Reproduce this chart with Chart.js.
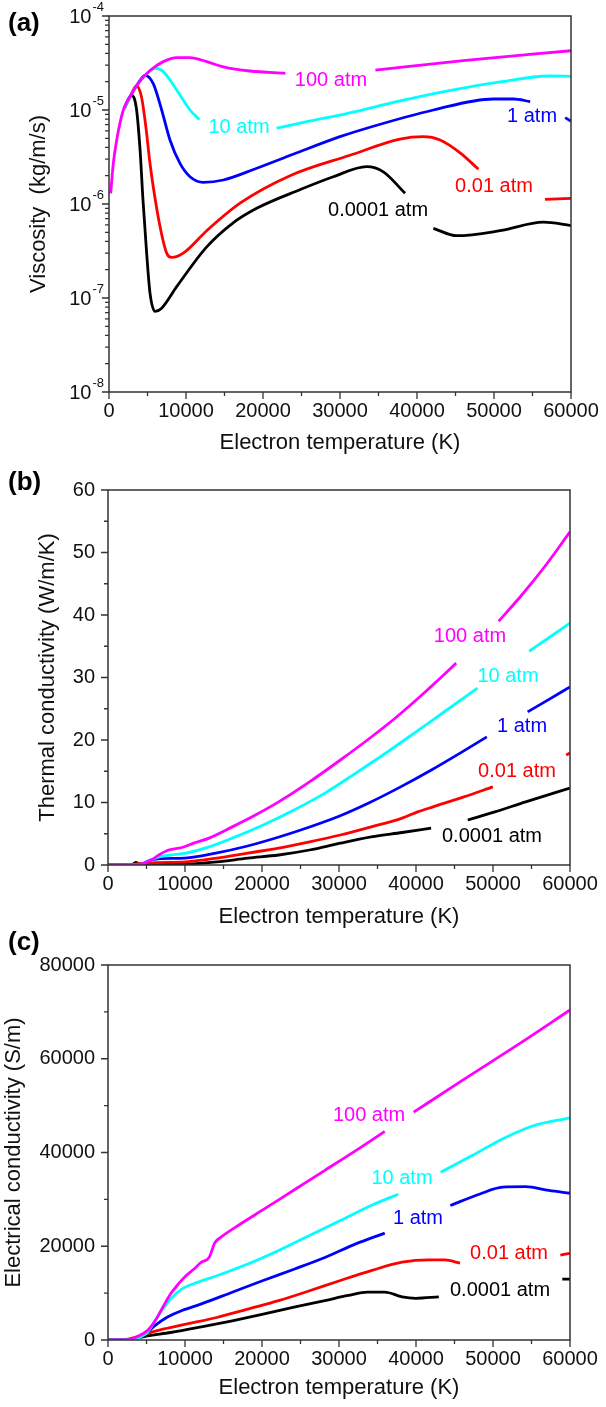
<!DOCTYPE html>
<html>
<head>
<meta charset="utf-8">
<script src="https://cdn.jsdelivr.net/npm/chart.js@4.4.1/dist/chart.umd.min.js"></script>
<style>
  html, body { margin: 0; padding: 0; background: #fff; }
  #wrap { position: relative; width: 606px; height: 1407px; overflow: hidden; }
  canvas { position: absolute; left: 0; }
</style>
</head>
<body>
<div id="wrap">
  <canvas id="chartA" width="606" height="460" style="top:0px"></canvas>
  <canvas id="chartB" width="606" height="470" style="top:460px"></canvas>
  <canvas id="chartC" width="606" height="477" style="top:930px"></canvas>
</div>
<script>
const FONT = '"Liberation Sans", Arial, Helvetica, sans-serif';

const seriesNames = ['100 atm', '10 atm', '1 atm', '0.01 atm', '0.0001 atm'];
const seriesColors = ['#ff00ff', '#00ffff', '#0000ff', '#ff0000', '#000000'];

// (a) viscosity (kg/m/s) vs electron temperature (K); null = break behind the label
const visc100 = [[220,1.3e-6],[560,2.7e-6],[1000,4.8e-6],[1860,1.0e-5],[2850,1.44e-5],[3550,1.8e-5],[4680,2.34e-5],[5900,2.85e-5],[7050,3.27e-5],[8790,3.6e-5],[10520,3.6e-5],[12690,3.27e-5],[14850,2.88e-5],[18300,2.6e-5],[22900,2.46e-5],[28000,null],[34600,2.65e-5],[46000,3.35e-5],[60000,4.27e-5]];
const visc10 = [[2000,1.05e-5],[2850,1.44e-5],[3550,1.8e-5],[4680,2.34e-5],[5980,2.78e-5],[7050,2.56e-5],[8790,1.63e-5],[10520,1.0e-5],[11730,7.9e-6],[16000,null],[21780,6.4e-6],[26000,7.6e-6],[31000,9.2e-6],[37800,1.25e-5],[44000,1.6e-5],[51000,2.0e-5],[57000,2.3e-5],[60000,2.28e-5]];
const visc1 = [[2000,1.05e-5],[2850,1.44e-5],[3550,1.8e-5],[4680,2.34e-5],[5760,1.9e-5],[6840,1.0e-5],[7920,4.8e-6],[9220,2.7e-6],[10520,1.95e-6],[12250,1.7e-6],[14850,1.8e-6],[19180,2.4e-6],[24000,3.4e-6],[30000,5.2e-6],[33470,6.4e-6],[42130,1.0e-5],[49920,1.31e-5],[52520,1.31e-5],[54700,1.23e-5],[57000,null],[59240,8.3e-6],[60000,7.6e-6]];
const visc001 = [[2000,1.05e-5],[2850,1.44e-5],[3550,1.8e-5],[4200,1.4e-5],[4800,6.5e-6],[5300,2.8e-6],[5760,1.5e-6],[6620,5.8e-7],[7490,3.0e-7],[8140,2.7e-7],[9650,3.0e-7],[12690,5.2e-7],[17020,1.02e-6],[23510,2.0e-6],[31300,3.3e-6],[37800,4.9e-6],[40830,5.2e-6],[43000,4.8e-6],[45600,3.5e-6],[47980,2.34e-6],[52000,null],[56620,1.12e-6],[60000,1.15e-6]];
const visc00001 = [[2000,1.05e-5],[2900,1.44e-5],[3550,1.05e-5],[4030,3.8e-6],[4400,1.15e-6],[4890,3.0e-7],[5330,1.12e-7],[5980,7.2e-8],[6840,7.8e-8],[8790,1.32e-7],[12690,3.5e-7],[16000,6.2e-7],[19180,9.0e-7],[24800,1.42e-6],[29130,1.95e-6],[33470,2.5e-6],[35630,2.2e-6],[38450,1.3e-6],[40000,null],[42130,5.5e-7],[45160,4.6e-7],[50790,5.2e-7],[56420,6.4e-7],[60000,5.9e-7]];

// (b) thermal conductivity (W/m/K)
const tc100 = [[0,0],[2600,0],[4100,0.1],[5600,0.8],[6600,1.6],[7870,2.4],[9620,2.8],[11130,3.5],[13130,4.3],[16140,6.1],[19150,8.0],[22160,10.1],[26170,13.3],[30180,16.8],[33690,20.0],[37200,23.4],[40210,26.6],[42710,29.4],[45220,32.3],[48000,null],[50730,39.0],[53740,43.2],[56750,47.8],[60000,53.3]];
const tc10 = [[0,0],[2600,0],[4500,0.2],[5500,0.8],[6620,1.3],[8120,1.6],[10130,1.9],[13130,2.9],[16140,4.3],[20150,6.4],[24160,8.8],[28170,11.5],[32180,14.7],[36190,18.0],[40000,21.3],[44000,24.8],[48000,28.3],[51000,null],[54700,34.2],[57300,36.4],[60000,38.7]];
const tc1 = [[0,0],[2600,0],[4500,0.2],[5500,0.8],[6500,1.0],[10000,1.1],[14000,1.9],[18000,3.0],[22000,4.4],[26000,6.0],[30000,7.8],[34000,10.0],[38000,12.5],[42000,15.2],[46000,18.1],[49200,20.5],[51500,null],[54500,24.5],[57000,26.3],[60000,28.5]];
const tc001 = [[0,0],[2600,0],[4000,0.2],[6100,0.37],[10130,0.5],[14140,1.1],[18150,1.9],[22160,2.7],[26170,3.7],[30180,4.8],[34190,6.1],[38200,7.5],[40210,8.5],[42210,9.3],[46220,10.9],[49980,12.5],[54000,null],[59500,17.6],[60000,17.9]];
const tc00001 = [[0,0],[3000,0],[3600,0.4],[4200,0.1],[6000,0.1],[10130,0.15],[14140,0.5],[18150,1.1],[22160,1.6],[26170,2.4],[30180,3.5],[34190,4.5],[38200,5.2],[41960,5.9],[44000,null],[46720,7.2],[50230,8.5],[54240,10.1],[60000,12.3]];

// (c) electrical conductivity (S/m)
const ec100 = [[0,0],[2600,0],[3600,570],[5110,2000],[6120,4100],[7120,7000],[8120,9800],[9120,11900],[10130,13700],[11130,15100],[12130,16600],[13130,17600],[13890,20800],[14640,21900],[17150,24700],[20150,27800],[24160,32000],[28170,36200],[32180,40400],[35940,44500],[37800,null],[39700,48600],[46220,55600],[53240,63000],[60000,70400]];
const ec10 = [[0,0],[2600,0],[4000,500],[5110,1600],[6120,4100],[7120,6600],[8120,8750],[9620,10900],[11630,12300],[14140,13700],[18150,16200],[22160,19100],[26170,22300],[30180,25500],[34190,28700],[37700,31100],[40500,null],[43210,35800],[47230,39300],[51240,42900],[55250,45700],[60000,47400]];
const ec1 = [[0,0],[2600,0],[4000,500],[5110,1600],[6120,3100],[7620,4800],[9620,6300],[12130,7700],[16140,10200],[20150,12700],[24160,15100],[28170,17600],[32180,20500],[35940,22800],[40000,null],[44460,28700],[48220,31100],[51240,32600],[54240,32700],[57250,31900],[60000,31300]];
const ec001 = [[0,0],[2600,200],[5110,1400],[7120,2300],[10130,3400],[14140,4800],[18150,6600],[22160,8400],[26170,10500],[30180,12700],[34190,14800],[38200,16600],[41710,17100],[43710,17100],[45720,16400],[52000,null],[58750,18100],[60000,18500]];
const ec00001 = [[0,0],[2600,70],[5110,900],[8120,1600],[12130,2800],[16140,4100],[20150,5500],[24160,7000],[28170,8400],[31180,9500],[33690,10200],[35940,10200],[38200,9200],[39960,8900],[42960,9200],[50000,null],[59000,13000],[60000,13000]];

// where the series names sit, in data units
const labelsA = [[28830,2.08e-5],[16880,6.44e-6],[54940,8.43e-6],[50000,1.55e-6],[34940,8.43e-7]];
const labelsB = [[47010,36.5],[51950,30.1],[53770,22.1],[53120,15.0],[49870,4.5]];
const labelsC = [[33900,48000],[38180,34560],[40260,26000],[52080,18560],[50910,10670]];

// axis ticks
const xMajor = [0,10000,20000,30000,40000,50000,60000];
const xMinor = [5000,15000,25000,35000,45000,55000];
const viscExp = [-4,-5,-6,-7,-8];
const tcMajor = [0,10,20,30,40,50,60];
const tcMinor = [5,15,25,35,45,55];
const ecMajor = [0,20000,40000,60000,80000];
const ecMinor = [10000,30000,50000,70000];

const viscMinor = [];
for (let e = -8; e < -4; e++) for (let m = 2; m <= 9; m++) viscMinor.push(m * Math.pow(10, e));

// frame, outward ticks, panel letter, curve names, log labels
const decor = {
  id: 'decor',
  afterDatasetsDraw(chart, args, o) {
    const {ctx, chartArea: a, scales} = chart;
    const sx = scales.x, sy = scales.y;
    ctx.save();
    ctx.strokeStyle = '#333';
    ctx.lineWidth = 1.5;
    ctx.strokeRect(a.left, a.top, a.right - a.left, a.bottom - a.top);

    ctx.lineWidth = 1.3;
    ctx.beginPath();
    xMajor.forEach(v => { const x = sx.getPixelForValue(v); ctx.moveTo(x, a.bottom); ctx.lineTo(x, a.bottom + 7); });
    xMinor.forEach(v => { const x = sx.getPixelForValue(v); ctx.moveTo(x, a.bottom); ctx.lineTo(x, a.bottom + 4); });
    o.yMajor.forEach(v => { const y = sy.getPixelForValue(v); ctx.moveTo(a.left, y); ctx.lineTo(a.left - 7, y); });
    o.yMinor.forEach(v => { const y = sy.getPixelForValue(v); ctx.moveTo(a.left, y); ctx.lineTo(a.left - 4, y); });
    ctx.stroke();

    ctx.fillStyle = '#000';
    ctx.font = 'bold 26px ' + FONT;
    ctx.textAlign = 'left';
    ctx.textBaseline = 'middle';
    ctx.fillText(o.letter, 8, o.letterY);

    ctx.font = '20px ' + FONT;
    ctx.textAlign = 'center';
    o.labels.forEach((p, i) => {
      ctx.fillStyle = seriesColors[i];
      ctx.fillText(seriesNames[i], sx.getPixelForValue(p[0]), sy.getPixelForValue(p[1]));
    });

    if (o.logLabels) {
      ctx.fillStyle = '#111';
      ctx.textAlign = 'right';
      viscExp.forEach(e => {
        const y = sy.getPixelForValue(Math.pow(10, e));
        ctx.font = '13px ' + FONT;
        const sup = String(e);
        const w = ctx.measureText(sup).width;
        ctx.fillText(sup, a.left - 5, y - 9);
        ctx.font = '20px ' + FONT;
        ctx.fillText('10', a.left - 6 - w, y + 1);
      });
    }
    ctx.restore();
  }
};

function toXY(arr) {
  return arr.map(p => ({x: p[0], y: p[1]}));
}

function datasets(list) {
  return list.map((arr, i) => ({
    label: seriesNames[i],
    data: toXY(arr),
    borderColor: seriesColors[i],
    borderWidth: 2.8,
    pointRadius: 0,
    cubicInterpolationMode: 'monotone',
    spanGaps: false,
    fill: false
  }));
}

function xAxis(height, titlePad) {
  return {
    type: 'linear', min: 0, max: 60000,
    afterFit: s => { s.height = height; },
    grid: {display: false, drawTicks: false},
    border: {display: false},
    ticks: {stepSize: 10000, padding: 7, autoSkip: false, maxRotation: 0, color: '#111',
      font: {family: FONT, size: 20}, callback: v => String(v)},
    title: {display: true, text: 'Electron temperature (K)', color: '#111',
      font: {family: FONT, size: 22}, padding: {top: 0, bottom: titlePad}}
  };
}

function yTitle(text, pad) {
  return {display: true, text: text, color: '#111', font: {family: FONT, size: 22}, padding: {top: pad, bottom: 0}};
}

function makeChart(id, data, x, y, pad, decorOpts) {
  return new Chart(document.getElementById(id).getContext('2d'), {
    type: 'line',
    data: {datasets: datasets(data)},
    options: {
      responsive: false,
      animation: false,
      events: [],
      layout: {padding: pad},
      plugins: {legend: {display: false}, tooltip: {enabled: false}, decor: decorOpts},
      scales: {x: x, y: y}
    },
    plugins: [decor]
  });
}

makeChart('chartA', [visc100, visc10, visc1, visc001, visc00001],
  xAxis(68, 4),
  {
    type: 'logarithmic', min: 1e-8, max: 1e-4,
    afterFit: s => { s.width = 109; },
    grid: {display: false, drawTicks: false},
    border: {display: false},
    ticks: {display: false},
    title: yTitle('Viscosity  (kg/m/s)', 26)
  },
  {top: 16, right: 35, left: 0, bottom: 0},
  {letter: '(a)', letterY: 24, labels: labelsA, yMajor: viscExp.map(e => Math.pow(10, e)), yMinor: viscMinor, logLabels: true});

makeChart('chartB', [tc100, tc10, tc1, tc001, tc00001],
  xAxis(65, 0),
  {
    type: 'linear', min: 0, max: 60,
    afterFit: s => { s.width = 108; },
    grid: {display: false, drawTicks: false},
    border: {display: false},
    ticks: {stepSize: 10, padding: 13, color: '#111', font: {family: FONT, size: 20}, callback: v => String(v)},
    title: yTitle('Thermal conductivity (W/m/K)', 35)
  },
  {top: 30, right: 36, left: 0, bottom: 0},
  {letter: '(b)', letterY: 23, labels: labelsB, yMajor: tcMajor, yMinor: tcMinor});

makeChart('chartC', [ec100, ec10, ec1, ec001, ec00001],
  xAxis(67, 6),
  {
    type: 'linear', min: 0, max: 80000,
    afterFit: s => { s.width = 108; },
    grid: {display: false, drawTicks: false},
    border: {display: false},
    ticks: {stepSize: 20000, padding: 13, color: '#111', font: {family: FONT, size: 20}, callback: v => String(v)},
    title: yTitle('Electrical conductivity (S/m)', 1)
  },
  {top: 35, right: 36, left: 0, bottom: 0},
  {letter: '(c)', letterY: 13, labels: labelsC, yMajor: ecMajor, yMinor: ecMinor});
</script>
</body>
</html>
